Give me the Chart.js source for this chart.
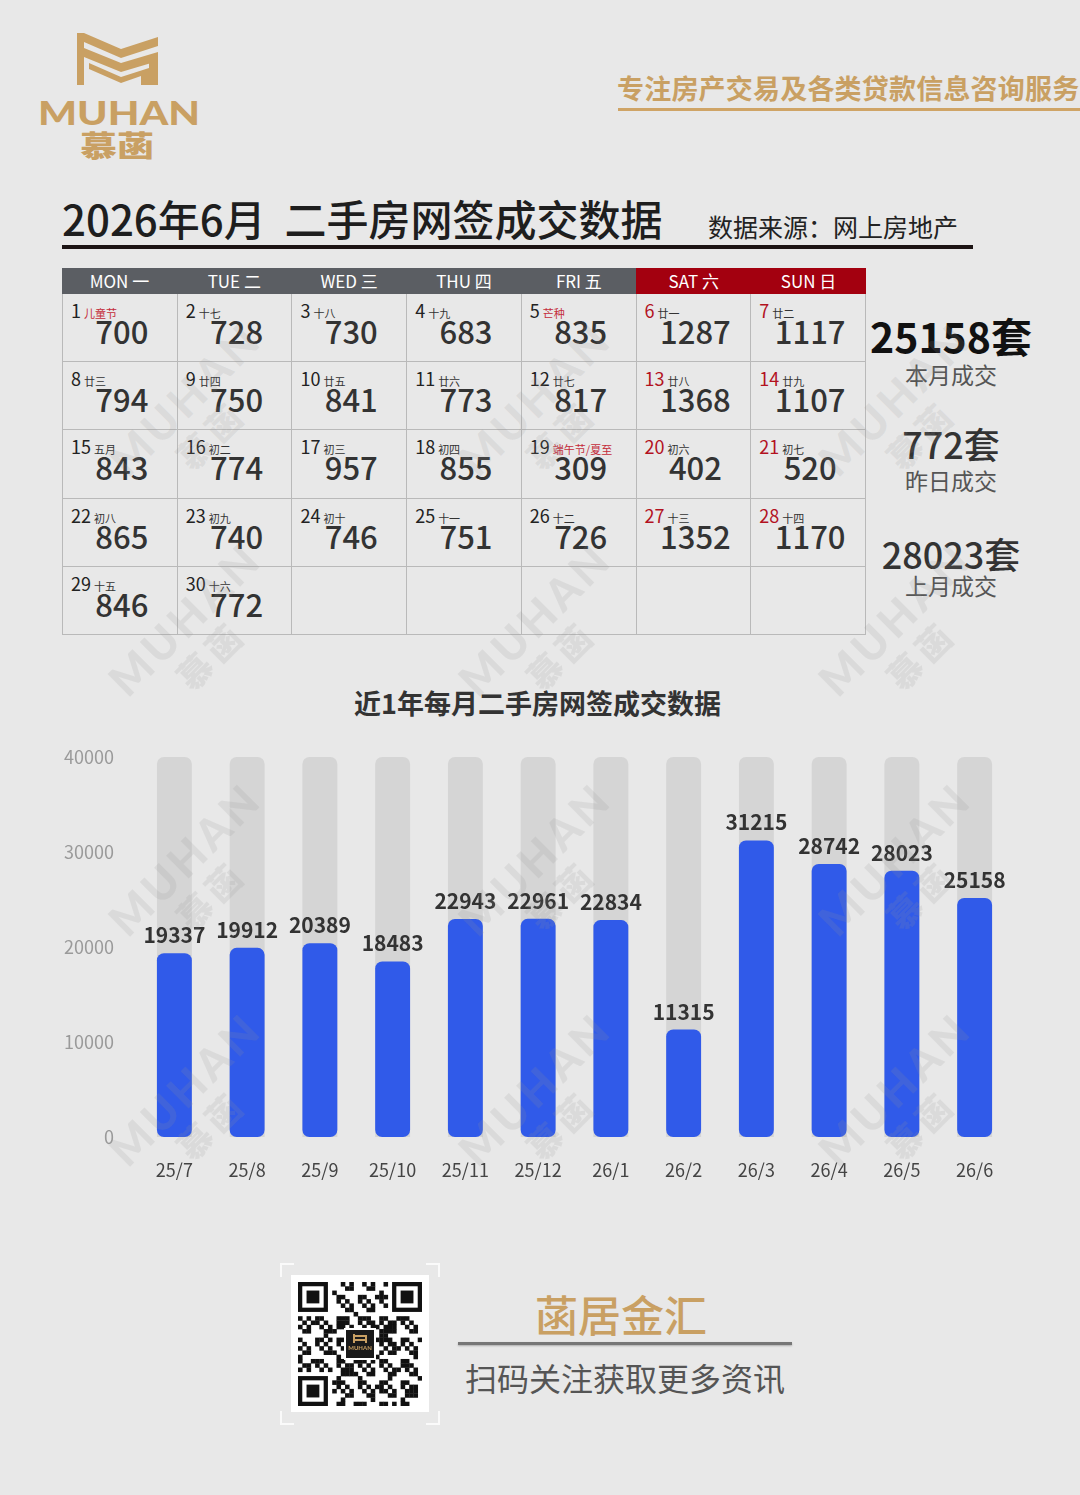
<!DOCTYPE html>
<html lang="zh-CN">
<head>
<meta charset="utf-8">
<script src="https://cdn.jsdelivr.net/npm/chart.js@4.4.1/dist/chart.umd.min.js"></script>
<style>
  html, body { margin: 0; padding: 0; }
  body {
    width: 1080px; height: 1495px; position: relative; overflow: hidden;
    background: #e8e8e8;
    font-family: "Noto Sans CJK SC", "Noto Sans", sans-serif;
    color: #333;
  }
  .abs { position: absolute; white-space: nowrap; }
  .tagline { left: 617px; top: 68px; font-size: 27px; font-weight: 700; color: #c9a063; letter-spacing: 0.2px; }
  .tagline-line { left: 618px; top: 108px; width: 462px; height: 3px; background: #cfa466; }
  .title { left: 62px; top: 188px; font-size: 42px; font-weight: 500; color: #1e1e1e; line-height: 60px; }
  .source { left: 708px; top: 208px; font-size: 25px; color: #222; line-height: 36px; }
  .title-line { left: 62px; top: 245px; width: 911px; height: 4px; background: #1c1414; }

  #calendar { left: 62px; top: 268px; width: 804px; }
  .head { display: flex; height: 26px; }
  .head div { flex: 1; color: #fff; font-size: 17px; line-height: 26px; text-align: center; background: #5b5e63; }
  .head div.we { background: #a3000f; }
  .grid { display: grid; grid-template-columns: repeat(7, 1fr); grid-auto-rows: 68.2px;
          border-left: 1px solid #b9b9b9; }
  .cell { position: relative; border-right: 1px solid #b9b9b9; border-bottom: 1px solid #b9b9b9; box-sizing: border-box; }
  .dn { position: absolute; left: 8px; top: 4px; font-size: 18px; line-height: 24px; color: #222; }
  .dn.red { color: #b3121f; }
  .lu { font-size: 11px; margin-left: 3px; color: #333; }
  .lu.red { color: #c42c3a; }
  .val { position: absolute; left: 4px; right: 0; top: 17px; text-align: center; font-size: 31px; line-height: 40px; font-weight: 500; color: #333; }

  .sum { left: 866px; width: 170px; text-align: center; }
  .sum-big { font-weight: 700; color: #111; }
  .sum-lab { font-size: 23px; color: #555; line-height: 30px; }

  .ctitle { left: 0; width: 1075px; top: 684px; text-align: center; font-size: 27px; font-weight: 700; color: #333; line-height: 38px; }
  #chartBox { left: 0; top: 730px; width: 1080px; height: 480px; }

  .qrframe { left: 280px; top: 1263px; width: 160px; height: 162px; }
  .qrwhite { left: 291px; top: 1275px; width: 138px; height: 137px; background: #fff; }
  .brand { left: 454px; width: 334px; top: 1283px; text-align: center; font-size: 43px; color: #c9a063; line-height: 60px; font-weight: 500; }
  .brand-line { left: 458px; top: 1342px; width: 334px; height: 3px; background: #777; box-shadow: 0 1px 2px rgba(0,0,0,0.25); }
  .follow { left: 458px; width: 334px; top: 1355px; text-align: center; font-size: 32px; color: #555; line-height: 44px; }

  .wm { position: absolute; transform: rotate(-45deg); color: rgba(150,150,150,0.16); font-weight: 900;
        font-family: "Lato", "Noto Sans", sans-serif; font-size: 44px; letter-spacing: 4px; pointer-events: none; text-align: center; line-height: 44px; }
  .wm span { display: block; font-family: "Noto Sans CJK SC"; font-size: 34px; letter-spacing: 6px; }
</style>
</head>
<body>

<!-- ロゴ -->
<svg class="abs" style="left:0;top:0" width="230" height="170" viewBox="0 0 230 170">
  <g fill="#c9a063">
    <rect x="77" y="33" width="7" height="52"/>
    <polygon points="84,33 121,49 158,37 158,46 121,58 84,42"/>
    <polygon points="84,48 121,63 158,52 158,61 121,72 84,57"/>
    <polygon points="89,63 121,77 149,68 149,85 141,85 141,76 121,83 89,69"/>
    <rect x="149" y="55" width="9" height="30"/>
  </g>
  <text x="38" y="125" textLength="162" lengthAdjust="spacingAndGlyphs" fill="#c9a063"
        font-family="Lato, 'Noto Sans', sans-serif" font-weight="900" font-size="32">MUHAN</text>
  <text x="80" y="157" textLength="74" lengthAdjust="spacingAndGlyphs" fill="#c9a063"
        font-family="'Noto Sans CJK SC'" font-weight="900" font-size="29">慕菡</text>
</svg>

<div class="abs tagline">专注房产交易及各类贷款信息咨询服务</div>
<div class="abs tagline-line"></div>

<div class="abs title">2026年6月&nbsp;&nbsp;二手房网签成交数据</div>
<div class="abs source">数据来源：网上房地产</div>
<div class="abs title-line"></div>

<div id="calendar" class="abs"></div>

<div class="abs sum sum-big" style="top:309px;font-size:41px;line-height:52px;">25158套</div>
<div class="abs sum sum-lab" style="top:359px;">本月成交</div>
<div class="abs sum sum-big" style="top:420px;font-size:36px;line-height:46px;color:#333;font-weight:500;">772套</div>
<div class="abs sum sum-lab" style="top:465px;">昨日成交</div>
<div class="abs sum sum-big" style="top:530px;font-size:36px;line-height:46px;color:#333;font-weight:500;">28023套</div>
<div class="abs sum sum-lab" style="top:570px;">上月成交</div>

<div class="abs ctitle">近1年每月二手房网签成交数据</div>
<div id="chartBox" class="abs"><canvas id="monthChart" width="1080" height="480"></canvas></div>

<!-- フッター -->
<svg class="abs qrframe" width="160" height="162" viewBox="0 0 160 162">
  <g stroke="#fafafa" stroke-width="2" fill="none">
    <polyline points="1,14 1,1 14,1"/>
    <polyline points="146,1 159,1 159,14"/>
    <polyline points="1,148 1,161 14,161"/>
    <polyline points="146,161 159,161 159,148"/>
  </g>
</svg>
<div class="abs qrwhite"></div>
<canvas id="qr" class="abs" style="left:298px;top:1282px" width="124" height="124"></canvas>

<div class="abs brand">菡居金汇</div>
<div class="abs brand-line"></div>
<div class="abs follow">扫码关注获取更多资讯</div>

<div id="watermarks"></div>

<script>
// 6月の日別データ
const dayValues = [700, 728, 730, 683, 835, 1287, 1117,
                   794, 750, 841, 773, 817, 1368, 1107,
                   843, 774, 957, 855, 309, 402, 520,
                   865, 740, 746, 751, 726, 1352, 1170,
                   846, 772];
const lunarLabels = ['儿童节', '十七', '十八', '十九', '芒种', '廿一', '廿二',
                     '廿三', '廿四', '廿五', '廿六', '廿七', '廿八', '廿九',
                     '五月', '初二', '初三', '初四', '端午节/夏至', '初六', '初七',
                     '初八', '初九', '初十', '十一', '十二', '十三', '十四',
                     '十五', '十六'];
const holidayDays = [1, 5, 19];
const weekHeaders = ['MON 一', 'TUE 二', 'WED 三', 'THU 四', 'FRI 五', 'SAT 六', 'SUN 日'];

// 近1年の月別データ
const monthLabels = ['25/7', '25/8', '25/9', '25/10', '25/11', '25/12', '26/1', '26/2', '26/3', '26/4', '26/5', '26/6'];
const monthlyDeals = [19337, 19912, 20389, 18483, 22943, 22961, 22834, 11315, 31215, 28742, 28023, 25158];
const yTicks = [0, 10000, 20000, 30000, 40000];

// カレンダーを生成
function buildCalendar() {
    const cal = document.getElementById('calendar');
    let html = '<div class="head">';
    weekHeaders.forEach((h, i) => {
        html += `<div class="${i >= 5 ? 'we' : ''}">${h}</div>`;
    });
    html += '</div><div class="grid">';
    for (let i = 0; i < 35; i++) {
        if (i < dayValues.length) {
            const day = i + 1;
            const weekend = i % 7 >= 5;
            const holiday = holidayDays.includes(day);
            html += `<div class="cell">
                <div class="dn${weekend ? ' red' : ''}">${day}<span class="lu${holiday ? ' red' : ''}">${lunarLabels[i]}</span></div>
                <div class="val">${dayValues[i]}</div>
            </div>`;
        } else {
            html += '<div class="cell"></div>';
        }
    }
    html += '</div>';
    cal.innerHTML = html;
}

// 棒の上に数値を描くプラグイン
const valueLabels = {
    id: 'valueLabels',
    afterDatasetsDraw(chart) {
        const meta = chart.getDatasetMeta(1);
        const ctx = chart.ctx;
        ctx.save();
        ctx.font = 'bold 21px "Noto Sans CJK SC"';
        ctx.fillStyle = '#333';
        ctx.textAlign = 'center';
        ctx.textBaseline = 'alphabetic';
        meta.data.forEach((bar, i) => {
            ctx.fillText(String(monthlyDeals[i]), bar.x, bar.y - 10);
        });
        ctx.restore();
    }
};

function drawMonthChart() {
    const yMax = yTicks[yTicks.length - 1];
    const ctx = document.getElementById('monthChart').getContext('2d');
    new Chart(ctx, {
        type: 'bar',
        data: {
            labels: monthLabels,
            datasets: [
                {
                    // 背景のグレーの棒
                    data: monthLabels.map(() => yMax),
                    backgroundColor: '#d5d5d5',
                    borderRadius: { topLeft: 7, topRight: 7, bottomLeft: 0, bottomRight: 0 },
                    borderSkipped: false,
                    grouped: false,
                    order: 2
                },
                {
                    data: monthlyDeals,
                    backgroundColor: '#305ae9',
                    borderRadius: 7,
                    borderSkipped: false,
                    grouped: false,
                    order: 1
                }
            ]
        },
        options: {
            responsive: false,
            animation: false,
            layout: { padding: { top: 27, right: 69, bottom: 0, left: 0 } },
            datasets: { bar: { categoryPercentage: 1, barPercentage: 0.48 } },
            scales: {
                x: {
                    grid: { display: false },
                    border: { display: false },
                    ticks: { color: '#444', font: { size: 18, family: 'Noto Sans CJK SC' }, padding: 14 },
                    afterFit: (scale) => { scale.height = 73; }
                },
                y: {
                    min: 0,
                    max: yMax,
                    grid: { display: false },
                    border: { display: false },
                    afterBuildTicks: (scale) => { scale.ticks = yTicks.map(v => ({ value: v })); },
                    ticks: {
                        color: '#9a9a9a',
                        font: { size: 18, family: 'Noto Sans CJK SC' },
                        padding: 16,
                        callback: (v) => String(v)
                    },
                    afterFit: (scale) => { scale.width = 138; }
                }
            },
            plugins: {
                legend: { display: false },
                tooltip: { enabled: false }
            }
        },
        plugins: [valueLabels]
    });
}

// QRコード風の図柄
function drawQr() {
    const c = document.getElementById('qr');
    const ctx = c.getContext('2d');
    const n = 29, s = 124 / n;
    ctx.fillStyle = '#111';
    const finder = (fx, fy) => {
        ctx.fillRect(fx * s, fy * s, 7 * s, 7 * s);
        ctx.fillStyle = '#fff';
        ctx.fillRect((fx + 1) * s, (fy + 1) * s, 5 * s, 5 * s);
        ctx.fillStyle = '#111';
        ctx.fillRect((fx + 2) * s, (fy + 2) * s, 3 * s, 3 * s);
    };
    for (let i = 0; i < n; i++) {
        for (let j = 0; j < n; j++) {
            const inFinder = (i < 8 && j < 8) || (i < 8 && j > n - 9) || (i > n - 9 && j < 8);
            if (inFinder) continue;
            if (((i * 7 + j * 13 + i * j) % 5) < 2 || ((i ^ j) % 7 === 3)) {
                ctx.fillRect(j * s, i * s, s + 0.3, s + 0.3);
            }
        }
    }
    finder(0, 0); finder(n - 7, 0); finder(0, n - 7);
    // 中央のロゴ
    ctx.fillStyle = '#fff';
    ctx.fillRect(46, 46, 32, 32);
    ctx.fillStyle = '#1a1a1a';
    ctx.fillRect(48, 48, 28, 28);
    ctx.fillStyle = '#c9a063';
    ctx.font = 'bold 6px Lato';
    ctx.textAlign = 'center';
    ctx.fillText('MUHAN', 62, 68);
    ctx.fillRect(55, 52, 2, 9);
    ctx.fillRect(67, 53, 2, 8);
    ctx.fillRect(57, 53, 10, 2);
    ctx.fillRect(57, 57, 10, 2);
}

// 透かし
function drawWatermarks() {
    const box = document.getElementById('watermarks');
    const xs = [195, 545, 905];
    const ys = [420, 640, 880, 1110];
    let html = '';
    ys.forEach(y => xs.forEach(x => {
        html += `<div class="wm" style="left:${x - 90}px;top:${y - 45}px;width:180px;">MUHAN<span>慕菡</span></div>`;
    }));
    box.innerHTML = html;
}

buildCalendar();
drawMonthChart();
drawQr();
drawWatermarks();
</script>
</body>
</html>
